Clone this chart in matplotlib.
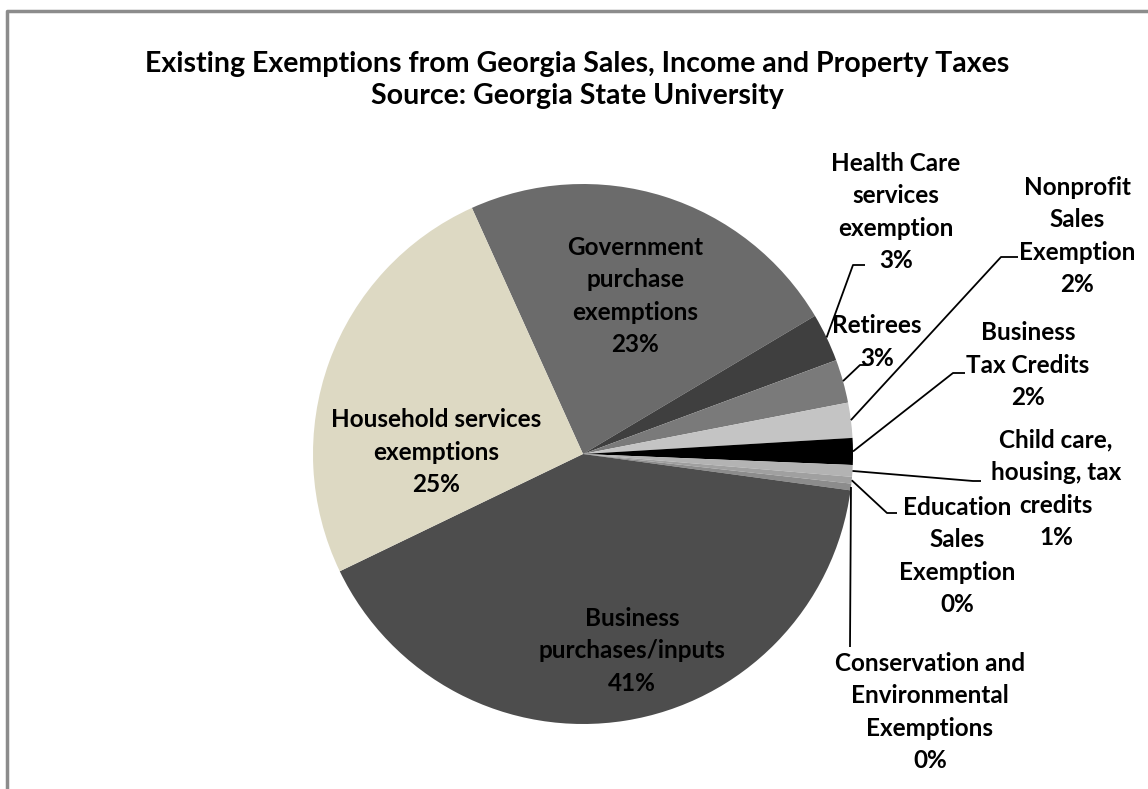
import numpy as np
import matplotlib.pyplot as plt

W, H = 1148, 789

# slice order runs clockwise from the top-left edge of the government slice
names = [
    "Government\npurchase\nexemptions",
    "Health Care\nservices\nexemption",
    "Retirees",
    "Nonprofit\nSales\nExemption",
    "Business\nTax Credits",
    "Child care,\nhousing, tax\ncredits",
    "Education\nSales\nExemption",
    "Conservation and\nEnvironmental\nExemptions",
    "Business\npurchases/inputs",
    "Household services\nexemptions",
]
shares = [23.2, 2.9, 2.6, 2.1, 1.6, 0.7, 0.4, 0.4, 40.7, 25.4]
colors = ["#6b6b6b", "#3f3f3f", "#7a7a7a", "#c4c4c4", "#000000",
          "#b3b3b3", "#a0a0a0", "#8c8c8c", "#4d4d4d", "#ddd9c3"]

FONT = "Lato"
plt.rcParams["font.family"] = [FONT, "DejaVu Sans"]

fig = plt.figure(figsize=(W / 100, H / 100), dpi=100)
ax = fig.add_axes([0, 0, 1, 1])

cx, cy, r = 583, H - 454, 270
wedges, _ = ax.pie(shares, colors=colors, startangle=114.3, counterclock=False,
                   center=(cx, cy), radius=r, wedgeprops=dict(linewidth=0))
ax.set_xlim(0, W)
ax.set_ylim(0, H)
ax.set_aspect("equal")
ax.axis("off")

total = sum(shares)
pcts = [f"{v / total * 100:.0f}%" for v in shares]

txt = dict(ha="center", va="center", fontsize=17.5, fontweight="bold",
           linespacing=1.5, color="black", multialignment="center")

# labels inside the three big slices
inside = {0: (635, 296), 8: (632, 651), 9: (436, 452)}
for i, (x, y) in inside.items():
    ax.text(x, H - y, names[i] + "\n" + pcts[i], **txt)

# outside labels: text centre, elbow of leader, end of leader
outside = {
    1: ((896, 212), (853, 265), (865, 265)),
    2: ((877, 342), (860, 365), (868, 365)),
    3: ((1077, 236), (1001, 257), (1018, 257)),
    4: ((1028, 365), (953, 373), (965, 373)),
    5: ((1056, 489), (973, 481), (981, 481)),
    6: ((957, 556), (887, 513), (897, 513)),
    7: ((930, 712), (850, 647), (850, 647)),
}
for i, (pos, elbow, end) in outside.items():
    w = wedges[i]
    mid = np.deg2rad((w.theta1 + w.theta2) / 2)
    px, py = cx + r * np.cos(mid), cy + r * np.sin(mid)
    ax.plot([px, elbow[0], end[0]], [py, H - elbow[1], H - end[1]],
            color="black", lw=1.3, solid_capstyle="butt")
    ax.text(pos[0], H - pos[1], names[i] + "\n" + pcts[i], **txt)

ax.text(577, H - 80,
        "Existing Exemptions from Georgia Sales, Income and Property Taxes\n"
        "Source: Georgia State University",
        ha="center", va="center", fontsize=20.5, fontweight="bold", linespacing=1.32)

# chart area border (cropped on right and bottom)
ax.plot([7, 7, W + 10], [-10, H - 11, H - 11], color="#8c8c8c", lw=2.5,
        clip_on=False)

fig.savefig("out.png", dpi=100)
